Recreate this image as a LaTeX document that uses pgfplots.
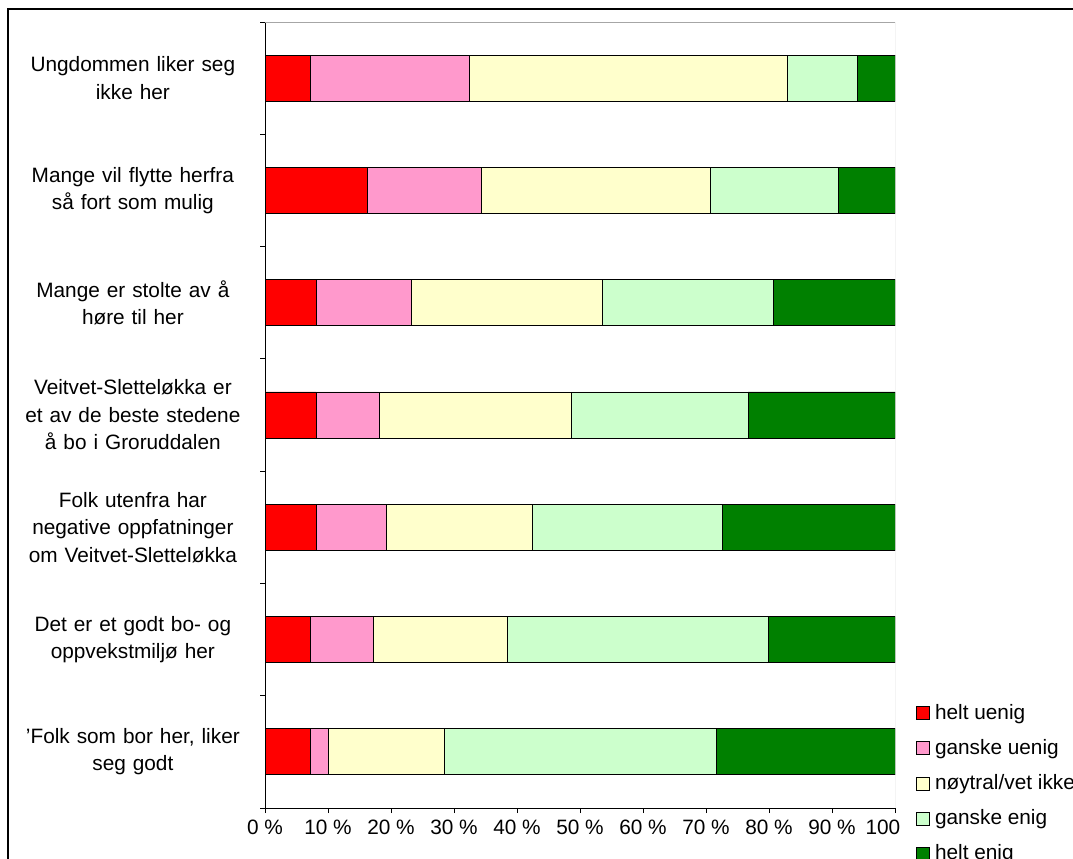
\documentclass[border=0pt]{standalone}
\usepackage{fontspec}
\setmainfont{Liberation Sans}
\usepackage{pgfplots}
\pgfplotsset{compat=1.18}

\definecolor{hUenig}{HTML}{FF0000}
\definecolor{gUenig}{HTML}{FF99CC}
\definecolor{noytral}{HTML}{FFFFCC}
\definecolor{gEnig}{HTML}{CCFFCC}
\definecolor{hEnig}{HTML}{008000}

\newcommand{\chartfont}{\fontsize{20.8bp}{27.5bp}\selectfont}

\begin{document}
\chartfont
\begin{tikzpicture}
\path[use as bounding box] (0bp,0bp) rectangle (1073bp,859bp);
\clip (0bp,0bp) rectangle (1073bp,859bp);
% outer frame
\draw[black, line width=1.2bp] (8bp,-20bp) rectangle (1100bp,850bp);

\begin{axis}[
  at={(265bp,51bp)}, anchor=south west,
  scale only axis, width=630bp, height=786bp,
  xbar stacked, bar width=46bp,
  xmin=0, xmax=100, ymin=-0.5, ymax=6.5,
  axis x line*=bottom, axis y line*=left,
  axis line style={black, line width=0.8bp},
  tick align=outside, major tick length=5bp,
  xtick={0,10,...,100},
  xticklabels={0~\%,10~\%,20~\%,30~\%,40~\%,50~\%,60~\%,70~\%,80~\%,90~\%,100~\%},
  ytick={0,...,6},
  yticklabels={{'Folk som bor her, liker\\seg godt},
               {Det er et godt bo- og\\oppvekstmiljø her},
               {Folk utenfra har\\negative oppfatninger\\om Veitvet-Sletteløkka},
               {Veitvet-Sletteløkka er\\et av de beste stedene\\å bo i Groruddalen},
               {Mange er stolte av å\\høre til her},
               {Mange vil flytte herfra\\så fort som mulig},
               {Ungdommen liker seg\\ikke her}},
  ytick style={draw=none},
  extra y ticks={-0.5,0.5,...,6.5},
  extra y tick labels={},
  extra y tick style={ytick style={draw=black, line width=0.8bp}},
  xtick style={black, line width=0.8bp},
  tick label style={font=\chartfont},
  yticklabel style={text width=240bp, align=center},
  /pgf/number format/assume math mode=true,
  every axis plot/.append style={draw=black, line width=0.8bp},
  legend image code/.code={\draw[#1, draw=black, line width=0.8bp] (0bp,-6.5bp) rectangle (13bp,6.5bp); \path (16bp,0bp);},
  legend style={at={(1.0175,0.135)}, anchor=north west, draw=none, fill=white,
    font=\chartfont, row sep=13bp, inner xsep=10bp, inner ysep=0pt},
  legend cell align=left,
]
\addplot[fill=hUenig] coordinates {(7.2,6) (16.2,5) (8.1,4) (8.1,3) (8.1,2) (7.2,1) (7.2,0)};
\addplot[fill=gUenig] coordinates {(25.2,6) (18.1,5) (15.2,4) (10.0,3) (11.2,2) (10.0,1) (2.9,0)};
\addplot[fill=noytral] coordinates {(50.5,6) (36.4,5) (30.3,4) (30.5,3) (23.1,2) (21.2,1) (18.3,0)};
\addplot[fill=gEnig] coordinates {(11.2,6) (20.3,5) (27.1,4) (28.1,3) (30.2,2) (41.5,1) (43.3,0)};
\addplot[fill=hEnig] coordinates {(5.9,6) (9.0,5) (19.3,4) (23.3,3) (27.4,2) (20.1,1) (28.3,0)};
\legend{helt uenig, ganske uenig, nøytral/vet ikke, ganske enig, helt enig}
\draw[gray!70, line width=0.8bp] (rel axis cs:0,1) -- (rel axis cs:1,1) -- (rel axis cs:1,0);
\end{axis}
\end{tikzpicture}
\end{document}
